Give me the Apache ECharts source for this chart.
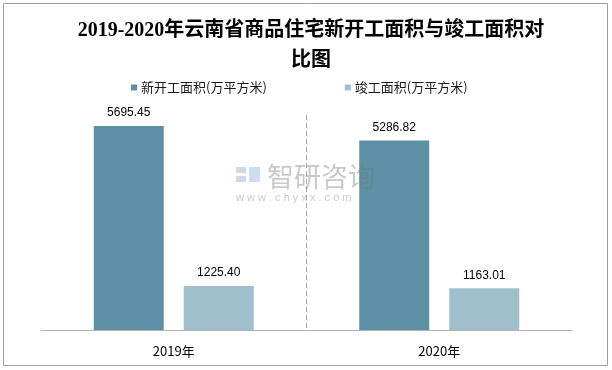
<!DOCTYPE html>
<html>
<head>
<meta charset="utf-8">
<script src="https://cdn.jsdelivr.net/npm/echarts@6/dist/echarts.min.js"></script>
<style>
html,body{margin:0;padding:0;background:#fff;}
#chart{width:612px;height:370px;}
</style>
</head>
<body>
<div id="chart"></div>
<script>
const categories = ['2019年', '2020年'];
const seriesNames = ['新开工面积(万平方米)', '竣工面积(万平方米)'];
const newStartValues = [5695.45, 5286.82];
const completedValues = [1225.40, 1163.01];
const titleText = '2019-2020年云南省商品住宅新开工面积与竣工面积对\n比图';

const chart = echarts.init(document.getElementById('chart'), null, {renderer: 'canvas'});
const sans = "'Noto Sans CJK SC', 'Liberation Sans', sans-serif";
const option = {
  backgroundColor: '#ffffff',
  animation: false,
  title: {
    text: titleText,
    left: 306,
    top: 11,
    textAlign: 'center',
    textStyle: {
      fontFamily: "'Liberation Serif', 'Noto Sans CJK SC', serif",
      fontSize: 20,
      fontWeight: 'bold',
      color: '#000',
      lineHeight: 30
    }
  },
  legend: {
    data: seriesNames,
    left: 126,
    top: 76,
    icon: 'rect',
    itemWidth: 6,
    itemHeight: 6,
    itemGap: 78,
    textStyle: {fontFamily: sans, fontSize: 13, color: '#1a1a1a', padding: [0, 0, 0, -1]}
  },
  grid: {left: 41, right: 40, top: 115, bottom: 40, containLabel: false},
  xAxis: {
    type: 'category',
    data: categories,
    axisLine: {lineStyle: {color: '#b3b3b3', width: 1}},
    axisTick: {show: false},
    axisLabel: {fontFamily: sans, fontSize: 13, color: '#000', margin: 15},
    splitLine: {
      show: true,
      showMinLine: false,
      showMaxLine: false,
      lineStyle: {color: '#a6a6a6', type: [5, 3], width: 1}
    }
  },
  yAxis: {
    type: 'value',
    min: 0,
    max: 6000,
    show: false,
    splitLine: {show: false}
  },
  series: [
    {
      name: seriesNames[0],
      type: 'bar',
      data: newStartValues,
      barWidth: 70,
      barGap: '28.6%',
      itemStyle: {color: '#5d8fa5'},
      label: {show: true, position: 'top', distance: 7, fontFamily: "'Liberation Sans', sans-serif", fontSize: 12, color: '#000',
        formatter: p => p.value.toFixed(2)}
    },
    {
      name: seriesNames[1],
      type: 'bar',
      data: completedValues,
      barWidth: 70,
      itemStyle: {color: '#a0bfcc'},
      label: {show: true, position: 'top', distance: 7, fontFamily: "'Liberation Sans', sans-serif", fontSize: 12, color: '#000',
        formatter: p => p.value.toFixed(2)}
    }
  ],
  graphic: [
    {
      type: 'rect',
      silent: true,
      shape: {x: 3.5, y: 3.5, width: 604, height: 362},
      style: {fill: 'none', stroke: '#a0a0a0', lineWidth: 1},
      z: 100
    },
    {
      type: 'group',
      silent: true,
      z: 100,
      children: [
        {type: 'rect', z: 100, shape: {x: 236, y: 167, width: 10, height: 6}, style: {fill: 'rgba(120,140,180,0.35)'}},
        {type: 'rect', z: 100, shape: {x: 236, y: 176, width: 10, height: 6}, style: {fill: 'rgba(120,140,180,0.35)'}},
        {type: 'rect', z: 100, shape: {x: 249, y: 167, width: 11, height: 15}, style: {fill: 'rgba(110,160,210,0.35)'}},
        {type: 'text', z: 100, style: {x: 267, y: 177, text: '智研咨询', fontFamily: sans, fontSize: 27, fill: 'rgba(120,120,120,0.4)', verticalAlign: 'middle'}},
        {type: 'text', z: 100, style: {x: 236, y: 198, text: 'w w w . c h y x x . c o m', fontFamily: "'Liberation Sans', sans-serif", fontSize: 11, fill: 'rgba(120,120,120,0.4)', verticalAlign: 'middle'}}
      ]
    }
  ]
};
chart.setOption(option);
</script>
</body>
</html>
